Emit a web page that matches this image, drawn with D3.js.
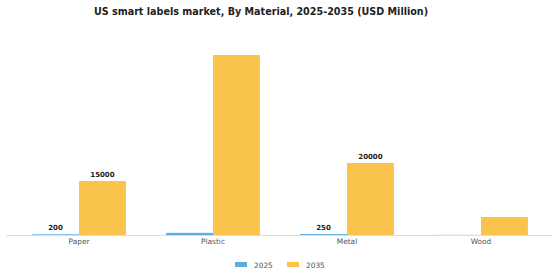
<!DOCTYPE html>
<html>
<head>
<meta charset="utf-8">
<script src="https://cdn.jsdelivr.net/npm/d3@7"></script>
<style>
  body { margin: 0; background: #fff; font-family: "DejaVu Sans", sans-serif; }
</style>
</head>
<body>
<div id="viz"></div>
<script>
const categories = ['Paper', 'Plastic', 'Metal', 'Wood'];
const years = ['2025', '2035'];
const values2025 = [200, 600, 250, 30];
const values2035 = [15000, 50000, 20000, 5000];
const labels2025 = ['200', null, '250', null];
const labels2035 = ['15000', null, '20000', null];
const colors = ['#5DADE2', '#F9C34C'];

const width = 560;
const height = 280;
const baseY = 235;

const svg = d3.select('#viz')
  .append('svg')
  .attr('width', width)
  .attr('height', height);

svg.append('text')
  .attr('x', 261)
  .attr('y', 15)
  .attr('text-anchor', 'middle')
  .attr('font-size', 9.6)
  .attr('font-weight', 'bold')
  .attr('fill', '#222')
  .text('US smart labels market, By Material, 2025-2035 (USD Million)');

const xScale = d3.scaleBand()
  .domain(categories)
  .range([12, 548])
  .paddingInner(0.3)
  .paddingOuter(0.15);

const xSub = d3.scaleBand()
  .domain(years)
  .range([0, xScale.bandwidth()]);

const yScale = d3.scaleLinear()
  .domain([0, 50000])
  .range([baseY, 55]);

const series = [values2025, values2035];
const seriesLabels = [labels2025, labels2035];

// baseline
svg.append('line')
  .attr('x1', 6).attr('x2', 552)
  .attr('y1', baseY + 0.5).attr('y2', baseY + 0.5)
  .attr('stroke', '#ddd')
  .attr('stroke-width', 1);

const groups = svg.append('g')
  .selectAll('g').data(categories)
  .enter().append('g')
    .attr('transform', (d) => `translate(${xScale(d)},0)`);

years.forEach((yr, s) => {
  groups.append('rect')
    .attr('x', xSub(yr))
    .attr('y', (d, i) => yScale(series[s][i]))
    .attr('width', xSub.bandwidth())
    .attr('height', (d, i) => baseY - yScale(series[s][i]))
    .attr('fill', colors[s]);

  groups.filter((d, i) => seriesLabels[s][i] !== null)
    .append('text')
    .attr('x', xSub(yr) + xSub.bandwidth() / 2)
    .attr('y', (d) => yScale(series[s][categories.indexOf(d)]) - 4)
    .attr('text-anchor', 'middle')
    .attr('font-size', 7)
    .attr('font-weight', 'bold')
    .attr('fill', '#222')
    .text((d) => seriesLabels[s][categories.indexOf(d)]);
});

const xAxis = d3.axisBottom(xScale).tickSize(0).tickPadding(4);
svg.append('g')
  .attr('transform', `translate(0, ${baseY})`)
  .call(xAxis)
  .call((g) => g.select('.domain').remove())
  .selectAll('text')
    .attr('font-size', 7.4)
    .attr('font-family', '"DejaVu Sans", sans-serif')
    .attr('fill', '#555');

const legend = svg.append('g')
  .attr('transform', 'translate(235, 262)');

years.forEach((yr, s) => {
  const item = legend.append('g')
    .attr('transform', `translate(${s * 52}, 0)`);
  item.append('rect')
    .attr('width', 12)
    .attr('height', 5)
    .attr('fill', colors[s]);
  item.append('text')
    .attr('x', 19)
    .attr('y', 5.5)
    .attr('font-size', 7.4)
    .attr('fill', '#555')
    .text(yr);
});
</script>
</body>
</html>
